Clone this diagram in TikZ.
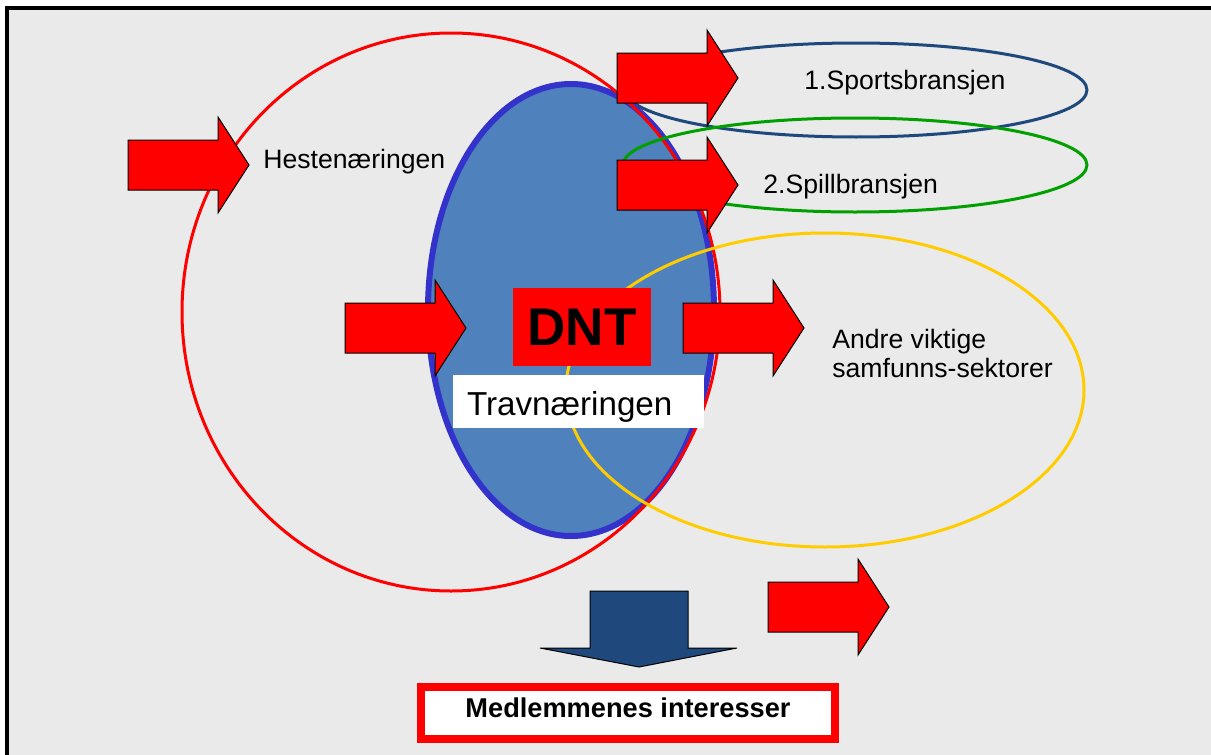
\documentclass[tikz,border=0pt]{standalone}
\usepackage{fontspec}
\setmainfont{Liberation Sans}
\usepackage{xcolor}
\usepackage{tikz}

\definecolor{bgGrey}{RGB}{234,234,234}
\definecolor{travBlue}{RGB}{79,129,189}
\definecolor{travEdge}{RGB}{51,51,204}
\definecolor{sportBlue}{RGB}{31,73,125}
\definecolor{spillGreen}{RGB}{0,160,0}
\definecolor{andreGold}{RGB}{255,204,0}

% red block arrow, tail at (#1,#2)
\newcommand{\blockarrow}[2]{\filldraw[redarrow] (#1,#2) ++(0,-25) -- ++(90,0) -- ++(0,-23) -- ++(31,48) -- ++(-31,48) -- ++(0,-23) -- ++(-90,0) -- cycle;}

\begin{document}
\begin{tikzpicture}[x=0.5pt, y=-0.5pt]
		\tikzstyle{ring} = [line width=1.5pt]
		\tikzstyle{txt} = [inner sep=0pt, anchor=base west, font=\fontsize{13.3}{14.5}\selectfont]
		\tikzstyle{redarrow} = [fill=red, draw=black, line width=0.5pt, line join=miter]
		
		\useasboundingbox (0,0) rectangle (1211,755);
		\fill[white] (0,0) rectangle (1211,755);
		\fill[bgGrey] (7,7.5) rectangle (1211,755);
		\draw[line width=2pt] (7,755) -- (7,7.5) -- (1211,7.5);
		
		% sectors
		\draw[ring, draw=sportBlue] (856,90) ellipse (231 and 47);
		\fill[travBlue] (571,310) ellipse (143 and 226);
		\draw[line width=3pt, draw=travEdge] (571,310) ellipse (143 and 226);
		\draw[ring, draw=red] (451,312) ellipse (269 and 279);
		\draw[ring, draw=spillGreen] (855,165) ellipse (232 and 47);
		\draw[ring, draw=andreGold] (825,390) ellipse (259 and 157);
		
		\node[txt] at (263,168) (hest) {Hestenæringen};
		\node[txt] at (804,90) (sport) {1.Sportsbransjen};
		\node[txt] at (763,193) (spill) {2.Spillbransjen};
		\node[txt, align=left] at (832,377) (andre) {Andre viktige\\samfunns-sektorer};
		
		\node[fill=red, inner sep=0pt, minimum width=69pt, minimum height=39pt, font=\fontsize{26.5}{30}\selectfont\bfseries] at (582,327) (dnt) {DNT};
		\node[fill=white, inner xsep=7pt, inner ysep=0pt, text width=111.5pt, align=left, minimum height=26.5pt, text height=13.5pt, text depth=0pt, font=\fontsize{16.6}{18}\selectfont] at (578.5,401.5) (trav) {Travnæringen};
		
		\blockarrow{128}{165}
		\blockarrow{617}{78}
		\blockarrow{617}{185}
		\blockarrow{345}{328}
		\blockarrow{683}{328}
		\blockarrow{768}{607}
		
		\filldraw[fill=sportBlue, draw=black, line width=0.5pt] (590,591) -- (688,591) -- (688,648) -- (737,648) -- (639,667) -- (540,648) -- (590,648) -- cycle;
		
		\node[draw=red, line width=4pt, fill=white, inner sep=0pt, minimum width=207pt, minimum height=26pt, text height=9.5pt, text depth=5.5pt, font=\fontsize{13.6}{14.5}\selectfont\bfseries] at (628,713) (med) {Medlemmenes interesser};
	\end{tikzpicture}
\end{document}
